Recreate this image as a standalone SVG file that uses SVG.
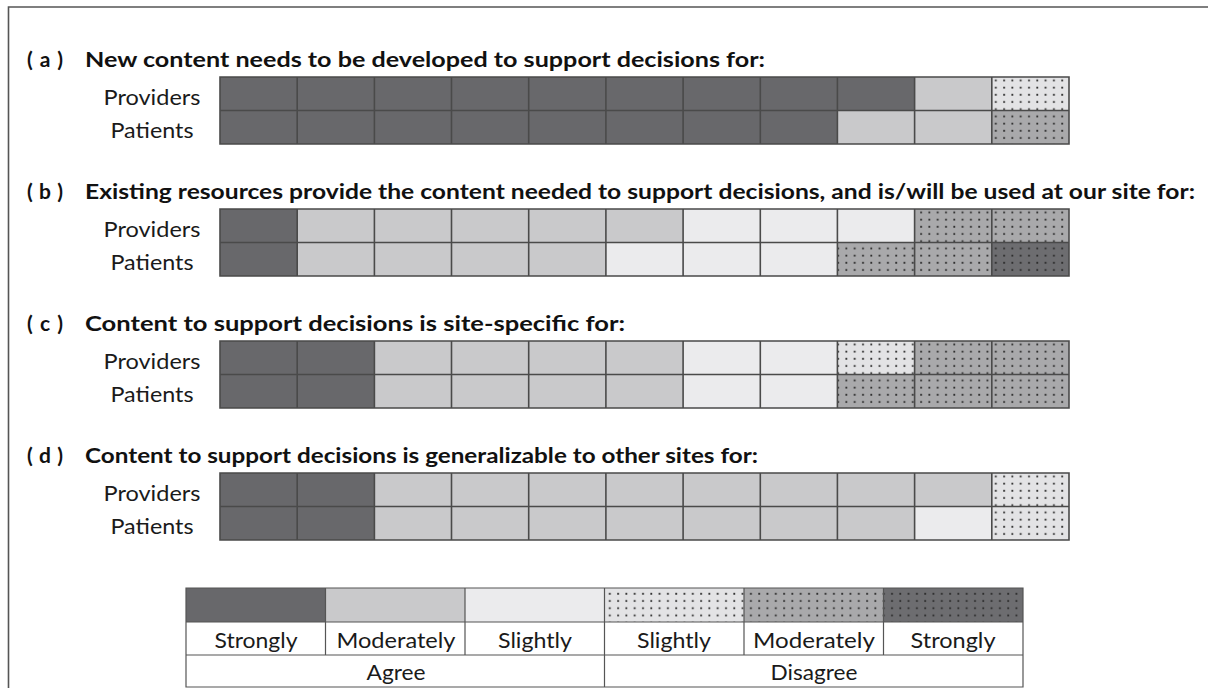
<svg xmlns="http://www.w3.org/2000/svg" width="1208" height="688" viewBox="0 0 1208 688">
<defs>
<pattern id="dots" width="8.3" height="7.2" patternUnits="userSpaceOnUse">
<rect x="3" y="2.5" width="1.8" height="1.8" fill="#2a2a2a"/>
</pattern>
<style>
.t{font-family:Lato,"Open Sans",sans-serif;font-weight:bold;font-size:21px;fill:#111}
.l{font-family:Lato,"Open Sans",sans-serif;font-size:22px;fill:#1a1a1a;text-anchor:middle}
.A{fill:#68686b}
.M{fill:#c9c9cb}
.S{fill:#ebebed}
.sd{fill:#e3e3e5}
.md{fill:#a9a9ab}
.SD{fill:#6d6d70}
.dot{fill:url(#dots)}
.g{stroke:#4a4a4a;stroke-width:1.6;fill:none}
.lg{stroke:#555;stroke-width:1.2;fill:none}
</style>
</defs>
<rect width="1208" height="688" fill="#fff"/>
<g id="frame"><path d="M8.5 688 V7 H1208" fill="none" stroke="#555" stroke-width="1.6"/></g>

<g id="panel-a">
<text class="t" x="27" y="67" textLength="36" lengthAdjust="spacing">( a )</text>
<text class="t" x="85" y="67" textLength="680" lengthAdjust="spacingAndGlyphs">New content needs to be developed to support decisions for:</text>
<text class="l" x="152" y="105" textLength="97" lengthAdjust="spacingAndGlyphs">Providers</text>
<text class="l" x="152" y="138" textLength="83" lengthAdjust="spacingAndGlyphs">Patients</text>
<g transform="translate(220,77)">
<rect class="A" x="0" y="0" width="694.6" height="33.5"/>
<rect class="M" x="694.6" y="0" width="77.2" height="33.5"/>
<rect class="sd" x="771.8" y="0" width="77.2" height="33.5"/><rect class="dot" x="771.8" y="0" width="77.2" height="33.5"/>
<rect class="A" x="0" y="33.5" width="617.4" height="33.5"/>
<rect class="M" x="617.4" y="33.5" width="154.4" height="33.5"/>
<rect class="md" x="771.8" y="33.5" width="77.2" height="33.5"/><rect class="dot" x="771.8" y="33.5" width="77.2" height="33.5"/>
<path class="g" d="M0 0H849V67H0Z M0 33.5H849 M77.2 0V67 M154.4 0V67 M231.5 0V67 M308.7 0V67 M385.9 0V67 M463.1 0V67 M540.3 0V67 M617.4 0V67 M694.6 0V67 M771.8 0V67"/>
</g>
</g>

<g id="panel-b">
<text class="t" x="27" y="199" textLength="36" lengthAdjust="spacing">( b )</text>
<text class="t" x="85" y="199" textLength="1110" lengthAdjust="spacingAndGlyphs">Existing resources provide the content needed to support decisions, and is/will be used at our site for:</text>
<text class="l" x="152" y="237" textLength="97" lengthAdjust="spacingAndGlyphs">Providers</text>
<text class="l" x="152" y="270" textLength="83" lengthAdjust="spacingAndGlyphs">Patients</text>
<g transform="translate(220,209)">
<rect class="A" x="0" y="0" width="77.2" height="33.5"/>
<rect class="M" x="77.2" y="0" width="385.9" height="33.5"/>
<rect class="S" x="463.1" y="0" width="231.5" height="33.5"/>
<rect class="md" x="694.6" y="0" width="154.4" height="33.5"/><rect class="dot" x="694.6" y="0" width="154.4" height="33.5"/>
<rect class="A" x="0" y="33.5" width="77.2" height="33.5"/>
<rect class="M" x="77.2" y="33.5" width="308.7" height="33.5"/>
<rect class="S" x="385.9" y="33.5" width="231.5" height="33.5"/>
<rect class="md" x="617.4" y="33.5" width="154.4" height="33.5"/><rect class="dot" x="617.4" y="33.5" width="154.4" height="33.5"/>
<rect class="SD" x="771.8" y="33.5" width="77.2" height="33.5"/><rect class="dot" x="771.8" y="33.5" width="77.2" height="33.5"/>
<path class="g" d="M0 0H849V67H0Z M0 33.5H849 M77.2 0V67 M154.4 0V67 M231.5 0V67 M308.7 0V67 M385.9 0V67 M463.1 0V67 M540.3 0V67 M617.4 0V67 M694.6 0V67 M771.8 0V67"/>
</g>
</g>

<g id="panel-c">
<text class="t" x="27" y="331" textLength="36" lengthAdjust="spacing">( c )</text>
<text class="t" x="85" y="331" textLength="540" lengthAdjust="spacingAndGlyphs">Content to support decisions is site-specific for:</text>
<text class="l" x="152" y="369" textLength="97" lengthAdjust="spacingAndGlyphs">Providers</text>
<text class="l" x="152" y="402" textLength="83" lengthAdjust="spacingAndGlyphs">Patients</text>
<g transform="translate(220,341)">
<rect class="A" x="0" y="0" width="154.4" height="67"/>
<rect class="M" x="154.4" y="0" width="308.7" height="67"/>
<rect class="S" x="463.1" y="0" width="154.3" height="67"/>
<rect class="sd" x="617.4" y="0" width="77.2" height="33.5"/><rect class="dot" x="617.4" y="0" width="77.2" height="33.5"/>
<rect class="md" x="694.6" y="0" width="154.4" height="33.5"/><rect class="dot" x="694.6" y="0" width="154.4" height="33.5"/>
<rect class="md" x="617.4" y="33.5" width="231.6" height="33.5"/><rect class="dot" x="617.4" y="33.5" width="231.6" height="33.5"/>
<path class="g" d="M0 0H849V67H0Z M0 33.5H849 M77.2 0V67 M154.4 0V67 M231.5 0V67 M308.7 0V67 M385.9 0V67 M463.1 0V67 M540.3 0V67 M617.4 0V67 M694.6 0V67 M771.8 0V67"/>
</g>
</g>

<g id="panel-d">
<text class="t" x="27" y="463" textLength="36" lengthAdjust="spacing">( d )</text>
<text class="t" x="85" y="463" textLength="673" lengthAdjust="spacingAndGlyphs">Content to support decisions is generalizable to other sites for:</text>
<text class="l" x="152" y="501" textLength="97" lengthAdjust="spacingAndGlyphs">Providers</text>
<text class="l" x="152" y="534" textLength="83" lengthAdjust="spacingAndGlyphs">Patients</text>
<g transform="translate(220,473)">
<rect class="A" x="0" y="0" width="154.4" height="67"/>
<rect class="M" x="154.4" y="0" width="617.4" height="33.5"/>
<rect class="M" x="154.4" y="33.5" width="540.2" height="33.5"/>
<rect class="S" x="694.6" y="33.5" width="77.2" height="33.5"/>
<rect class="sd" x="771.8" y="0" width="77.2" height="67"/><rect class="dot" x="771.8" y="0" width="77.2" height="67"/>
<path class="g" d="M0 0H849V67H0Z M0 33.5H849 M77.2 0V67 M154.4 0V67 M231.5 0V67 M308.7 0V67 M385.9 0V67 M463.1 0V67 M540.3 0V67 M617.4 0V67 M694.6 0V67 M771.8 0V67"/>
</g>
</g>

<g id="legend">
<rect class="A" x="186" y="588" width="139.5" height="34"/>
<rect class="M" x="325.5" y="588" width="139.5" height="34"/>
<rect class="S" x="465" y="588" width="139.5" height="34"/>
<rect class="sd" x="604.5" y="588" width="139.5" height="34"/><rect class="dot" x="604.5" y="588" width="139.5" height="34"/>
<rect class="md" x="744" y="588" width="139.5" height="34"/><rect class="dot" x="744" y="588" width="139.5" height="34"/>
<rect class="SD" x="883.5" y="588" width="139.5" height="34"/><rect class="dot" x="883.5" y="588" width="139.5" height="34"/>
<path class="lg" d="M186 588H1023V687H186Z M186 622H1023 M186 655H1023 M325.5 588V655 M465 588V655 M604.5 588V687 M744 588V655 M883.5 588V655"/>
<text class="l" x="256" y="648" textLength="83" lengthAdjust="spacingAndGlyphs">Strongly</text>
<text class="l" x="396" y="648" textLength="119" lengthAdjust="spacingAndGlyphs">Moderately</text>
<text class="l" x="535" y="648" textLength="74" lengthAdjust="spacingAndGlyphs">Slightly</text>
<text class="l" x="674" y="648" textLength="74" lengthAdjust="spacingAndGlyphs">Slightly</text>
<text class="l" x="814" y="648" textLength="122" lengthAdjust="spacingAndGlyphs">Moderately</text>
<text class="l" x="953" y="648" textLength="85" lengthAdjust="spacingAndGlyphs">Strongly</text>
<text class="l" x="396" y="680" textLength="59" lengthAdjust="spacingAndGlyphs">Agree</text>
<text class="l" x="814" y="680" textLength="87" lengthAdjust="spacingAndGlyphs">Disagree</text>
</g>
</svg>
